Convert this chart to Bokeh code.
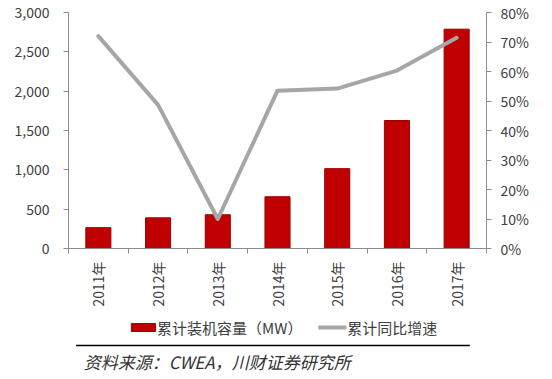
import math
from bokeh.plotting import figure
from bokeh.layouts import column
from bokeh.models import Range1d, LinearAxis, FixedTicker, NumeralTickFormatter, ColumnDataSource
from bokeh.embed import file_html
from bokeh.resources import INLINE
from bokeh.core.properties import value

years = ["2011年", "2012年", "2013年", "2014年", "2015年", "2016年", "2017年"]
capacity_mw = [265, 390, 429, 658, 1015, 1627, 2788]
growth = [0.72, 0.487, 0.10, 0.535, 0.542, 0.603, 0.714]
left_ticks = [0, 500, 1000, 1500, 2000, 2500, 3000]
right_ticks = [0, 0.1, 0.2, 0.3, 0.4, 0.5, 0.6, 0.7, 0.8]
legend_bar = "累计装机容量（MW）"
legend_line = "累计同比增速"
source_text = "资料来源：CWEA，川财证券研究所"

FONT = "Noto Sans CJK SC"
TXT = "#404040"
AX = "#8c8c8c"

xc = [i + 0.5 for i in range(len(years))]
src = ColumnDataSource(dict(x=xc, cap=capacity_mw, g=growth))

p = figure(width=552, height=316, output_backend="svg", toolbar_location=None,
           x_range=Range1d(0, len(years)), y_range=Range1d(0, 3000),
           min_border_left=68, min_border_right=66, min_border_top=12, min_border_bottom=68,
           x_axis_location=None, y_axis_location=None)
p.extra_y_ranges = {"pct": Range1d(0, 0.8)}
p.outline_line_color = None
p.xgrid.visible = False
p.ygrid.visible = False
p.background_fill_color = "white"
p.border_fill_color = "white"

p.vbar(x="x", top="cap", width=0.42, bottom=0, source=src,
       fill_color="#C00000", line_color="#9A0000", line_width=1)
p.line(x="x", y="g", source=src, y_range_name="pct",
       line_color="#A6A6A6", line_width=4, line_join="round", line_cap="round")

def style(ax):
    ax.axis_line_color = AX
    ax.major_tick_line_color = AX
    ax.minor_tick_line_color = AX
    ax.major_label_text_font = FONT
    ax.major_label_text_font_size = "14px"
    ax.major_label_text_color = TXT

xa = LinearAxis(ticker=FixedTicker(ticks=xc, minor_ticks=list(range(len(years) + 1))),
                major_label_overrides={x: y for x, y in zip(xc, years)})
style(xa)
xa.major_tick_out = 0
xa.major_tick_in = 0
xa.minor_tick_out = 5
xa.minor_tick_in = 0
xa.major_label_orientation = math.pi / 2
xa.major_label_standoff = 8
p.add_layout(xa, "below")

ya = LinearAxis(ticker=FixedTicker(ticks=left_ticks), formatter=NumeralTickFormatter(format="0,0"))
style(ya)
ya.major_tick_out = 5
ya.major_tick_in = 0
ya.minor_tick_line_color = None
ya.major_label_standoff = 14
p.add_layout(ya, "left")

ya2 = LinearAxis(y_range_name="pct", ticker=FixedTicker(ticks=right_ticks),
                 formatter=NumeralTickFormatter(format="0%"))
style(ya2)
ya2.major_tick_out = 5
ya2.major_tick_in = 0
ya2.minor_tick_line_color = None
ya2.major_label_standoff = 9
p.add_layout(ya2, "right")

# legend and source strip
H2 = 63
q = figure(width=552, height=H2, output_backend="svg", toolbar_location=None,
           x_range=Range1d(0, 552), y_range=Range1d(0, H2),
           x_axis_type=None, y_axis_type=None, min_border=0)
q.outline_line_color = None
q.xgrid.visible = False
q.ygrid.visible = False

q.quad(left=[83], right=[115], top=[56], bottom=[48], fill_color="#C00000", line_color="#9A0000")
q.text(x=[117], y=[52], text=[legend_bar], text_font=value(FONT), text_font_size="15px",
       text_color=TXT, text_baseline="middle", text_align="left")
q.line(x=[330, 367], y=[52, 52], line_color="#A6A6A6", line_width=4)
q.text(x=[368], y=[52], text=[legend_line], text_font=value(FONT), text_font_size="15px",
       text_color=TXT, text_baseline="middle", text_align="left")
q.line(x=[10, 530], y=[34, 34], line_color="black", line_width=1.5)
q.text(x=[20], y=[18], text=[source_text], text_font=value(FONT), text_font_size="17px",
       text_font_style="italic", text_color="#333333", text_baseline="middle", text_align="left")

layout = column(p, q, spacing=0)
open("out.html", "w").write(file_html(layout, INLINE))
